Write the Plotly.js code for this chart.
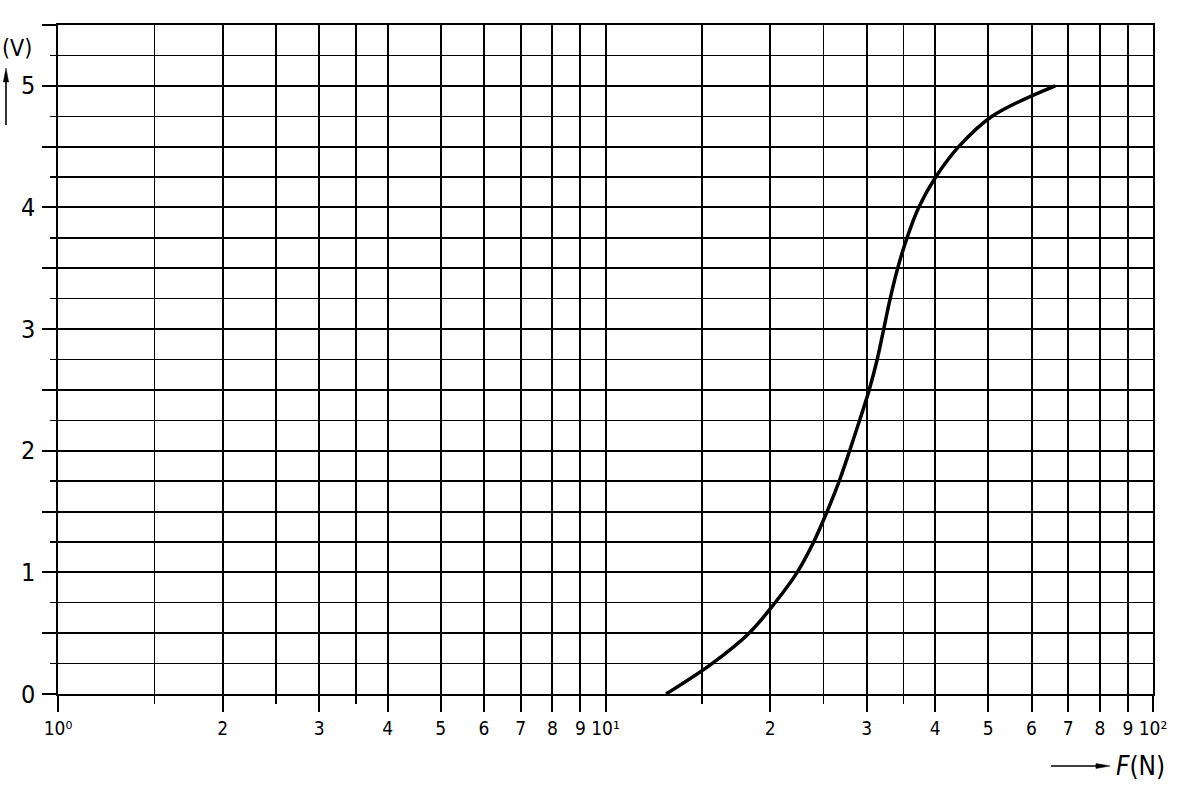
<!DOCTYPE html>
<html>
<head>
<meta charset="utf-8">
<script src="https://cdn.plot.ly/plotly-3.0.1.min.js"></script>
<style>
  body { margin: 0; background: #fff; }
  #chart { width: 1190px; height: 806px; }
  #chart svg text { font-stretch: condensed !important; }
</style>
</head>
<body>
<div id="chart"></div>
<script>
// curve: force F (N) against output voltage (V)
var forceN = [12.9, 15.65, 18.29, 20.4, 22.39, 24.0, 25.4, 26.72, 27.92, 29.12, 30.31,
              31.35, 32.22, 33.11, 34.17, 35.54, 37.33, 40.1, 44.17, 50.83, 66.3];
var voltV  = [0, 0.25, 0.5, 0.75, 1.0, 1.25, 1.5, 1.75, 2.0, 2.25, 2.5,
              2.75, 3.0, 3.25, 3.5, 3.75, 4.0, 4.25, 4.5, 4.75, 5.0];

// axis ticks
var xTickVals = [1, 2, 3, 4, 5, 6, 7, 8, 9, 10, 20, 30, 40, 50, 60, 70, 80, 90, 100];
var xTickText = ['10⁰', '2', '3', '4', '5', '6', '7', '8', '9', '10¹',
                 '2', '3', '4', '5', '6', '7', '8', '9', '10²'];
var xMinorVals = [1.5, 2.5, 3.5, 15, 25, 35];

var yLabelVals = [0, 1, 2, 3, 4, 5];
var yLineVals = [0, 0.5, 1, 1.5, 2, 2.5, 3, 3.5, 4, 4.5, 5, 5.5];
var yMinorVals = [0.25, 0.75, 1.25, 1.75, 2.25, 2.75, 3.25, 3.75, 4.25, 4.75, 5.25];

var font = "'DejaVu Sans Condensed', 'DejaVu Sans', sans-serif";

var data = [
  {
    x: forceN,
    y: voltV,
    type: 'scatter',
    mode: 'lines',
    line: { color: '#000', width: 3.5, shape: 'spline', smoothing: 1 },
    hoverinfo: 'skip'
  }
];

// y numbers sit only on whole volts, lines every half volt
var yLabels = yLabelVals.map(function (v) {
  return {
    xref: 'paper', yref: 'y', x: -0.0195, y: v,
    text: String(v), showarrow: false,
    font: { size: 25, family: font, color: '#000' },
    xanchor: 'right', yanchor: 'middle'
  };
});

var layout = {
  width: 1190,
  height: 806,
  margin: { l: 58, r: 37, t: 25, b: 112 },
  paper_bgcolor: '#fff',
  plot_bgcolor: '#fff',
  showlegend: false,
  font: { family: font, color: '#000' },
  xaxis: {
    type: 'log',
    range: [0, 2],
    tickmode: 'array',
    tickvals: xTickVals,
    ticktext: xTickText,
    ticks: 'outside',
    ticklen: 16,
    tickwidth: 2,
    tickcolor: '#000',
    tickfont: { size: 19, family: font, color: '#000' },
    showgrid: true,
    gridcolor: '#000',
    gridwidth: 2,
    zeroline: false,
    showline: true,
    mirror: true,
    linecolor: '#000',
    linewidth: 1.8,
    minor: {
      tickmode: 'array',
      tickvals: xMinorVals,
      ticks: 'outside',
      ticklen: 8,
      tickwidth: 1.3,
      tickcolor: '#000',
      showgrid: true,
      gridcolor: '#000',
      gridwidth: 1.3
    },
    fixedrange: true
  },
  yaxis: {
    range: [0, 5.5],
    tickmode: 'array',
    tickvals: yLineVals,
    showticklabels: false,
    ticks: 'outside',
    ticklen: 14,
    tickwidth: 2,
    tickcolor: '#000',
    showgrid: true,
    gridcolor: '#000',
    gridwidth: 2,
    zeroline: false,
    showline: true,
    mirror: true,
    linecolor: '#000',
    linewidth: 1.6,
    minor: {
      tickmode: 'array',
      tickvals: yMinorVals,
      ticks: 'outside',
      ticklen: 6,
      tickwidth: 1.3,
      tickcolor: '#000',
      showgrid: true,
      gridcolor: '#000',
      gridwidth: 1.3
    },
    fixedrange: true
  },
  shapes: [
    // upward arrow beside the y axis
    { type: 'line', xref: 'paper', yref: 'paper', x0: -0.0475, x1: -0.0475, y0: 0.8505, y1: 0.918,
      line: { color: '#000', width: 1.6 } },
    { type: 'path', xref: 'paper', yref: 'paper',
      path: 'M -0.0475 0.9357 L -0.0499 0.9148 L -0.0451 0.9148 Z',
      fillcolor: '#000', line: { color: '#000', width: 0.5 } },
    // arrow in front of the x quantity
    { type: 'line', xref: 'paper', yref: 'paper', x0: 0.9068, x1: 0.950, y0: -0.1076, y1: -0.1076,
      line: { color: '#000', width: 1.6 } },
    { type: 'path', xref: 'paper', yref: 'paper',
      path: 'M 0.9607 -0.1076 L 0.9479 -0.1113 L 0.9479 -0.1039 Z',
      fillcolor: '#000', line: { color: '#000', width: 0.5 } }
  ],
  annotations: yLabels.concat([
    {
      xref: 'paper', yref: 'paper', x: -0.0374, y: 0.9656,
      text: '(V)', showarrow: false,
      font: { size: 23, family: font, color: '#000' },
      xanchor: 'center', yanchor: 'middle'
    },
    {
      xref: 'paper', yref: 'paper', x: 0.9645, y: -0.1076,
      text: '<i>F</i>(N)', showarrow: false,
      font: { size: 26, family: font, color: '#000' },
      xanchor: 'left', yanchor: 'middle'
    }
  ])
};

Plotly.newPlot('chart', data, layout, { displayModeBar: false, staticPlot: true });
</script>
</body>
</html>
